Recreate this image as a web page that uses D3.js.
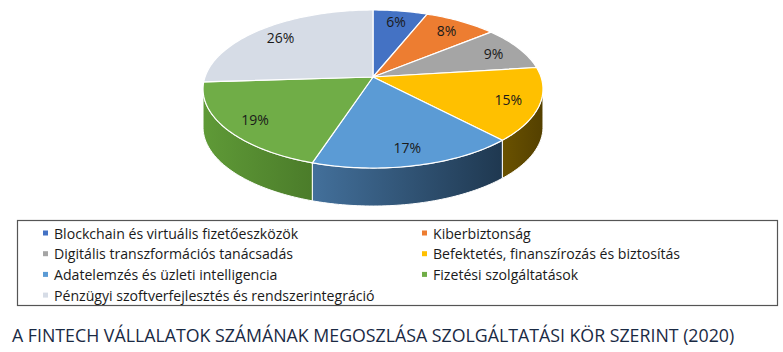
<!DOCTYPE html>
<html>
<head>
<meta charset="utf-8">
<script src="https://cdn.jsdelivr.net/npm/d3@7"></script>
<style>
  body { margin: 0; background: #fff; }
  text { font-family: "Open Sans", "Noto Sans", sans-serif; }
</style>
</head>
<body>
<div id="chart"></div>
<script>
// service areas of fintech companies (2020)
const categories = [
    "Blockchain és virtuális fizetőeszközök",
    "Kiberbiztonság",
    "Digitális transzformációs tanácsadás",
    "Befektetés, finanszírozás és biztosítás",
    "Adatelemzés és üzleti intelligencia",
    "Fizetési szolgáltatások",
    "Pénzügyi szoftverfejlesztés és rendszerintegráció"
];
const shares = [6, 8, 9, 15, 17, 19, 26];
const topColors = ["#4472C4", "#ED7D31", "#A5A5A5", "#FFC000", "#5B9BD5", "#70AD47", "#D6DCE6"];
const sideColors = [
    ["#2f5597", "#23407a"], ["#a5541d", "#8a4416"], ["#737373", "#5e5e5e"],
    ["#6a5200", "#544000"], ["#43709b", "#1f3850"], ["#5f9a37", "#4b7c2a"], ["#9aa3b0", "#7f8794"]
];
const title = "A FINTECH VÁLLALATOK SZÁMÁNAK MEGOSZLÁSA SZOLGÁLTATÁSI KÖR SZERINT (2020)";

const W = 783, H = 352;
const svg = d3.select("#chart").append("svg")
    .attr("width", W)
    .attr("height", H);

const defs = svg.append("defs");

// perspective-ish projection of a flat disc
const pie3d = { cx: 373, cy: 77, R: 168, K: 77.2, B: 0.152, depth: 38 };

function proj(a, k) {
    let u = Math.sin(a) * k, v = -Math.cos(a) * k;
    let s = 1 / (1 - pie3d.B * v);
    return [pie3d.cx + pie3d.R * u * s, pie3d.cy + pie3d.K * v * s];
}

function arcPoints(a0, a1, k) {
    let n = Math.max(2, Math.ceil(Math.abs(a1 - a0) / 0.02));
    return d3.range(n + 1).map(i => proj(a0 + (a1 - a0) * i / n, k));
}

const pie = d3.pie().sort(null).value(d => d);
const slices = pie(shares);

const line = d3.line();

// visible side runs between the two silhouette points
const aFrontL = Math.acos(-pie3d.B);
const aFrontR = 2 * Math.PI - aFrontL;

const sideG = svg.append("g");
slices.forEach((d, i) => {
    let lo = Math.max(d.startAngle, aFrontL);
    let hi = Math.min(d.endAngle, aFrontR);
    if (lo >= hi) return;
    let top = arcPoints(lo, hi, 1);
    let bottom = top.map(p => [p[0], p[1] + pie3d.depth]).reverse();

    let xs = top.map(p => p[0]);
    let grad = defs.append("linearGradient")
        .attr("id", "side" + i)
        .attr("gradientUnits", "userSpaceOnUse")
        .attr("x1", d3.min(xs)).attr("x2", d3.max(xs))
        .attr("y1", 0).attr("y2", 0);
    grad.append("stop").attr("offset", "0%").attr("stop-color", sideColors[i][0]);
    grad.append("stop").attr("offset", "100%").attr("stop-color", sideColors[i][1]);

    sideG.append("path")
        .attr("d", line(top.concat(bottom)) + "Z")
        .attr("fill", "url(#side" + i + ")")
        .attr("stroke", "#fff")
        .attr("stroke-width", 1)
        .attr("stroke-linejoin", "round");
});

// top face
const topG = svg.append("g");
topG.selectAll("path")
    .data(slices)
    .enter().append("path")
    .attr("d", d => line([[pie3d.cx, pie3d.cy]].concat(arcPoints(d.startAngle, d.endAngle, 1))) + "Z")
    .attr("fill", (d, i) => topColors[i])
    .attr("stroke", "#fff")
    .attr("stroke-width", 1.2)
    .attr("stroke-linejoin", "round");

// percentage labels
topG.selectAll("text")
    .data(slices)
    .enter().append("text")
    .attr("x", d => proj((d.startAngle + d.endAngle) / 2, 0.82)[0])
    .attr("y", d => proj((d.startAngle + d.endAngle) / 2, 0.82)[1])
    .attr("text-anchor", "middle")
    .attr("dominant-baseline", "central")
    .style("font-size", "14px")
    .style("fill", "#1a1a1a")
    .text(d => d.data + "%");

// legend
const legend = { x: 17, y: 220, w: 760, h: 85, col2: 422, row0: 233, rowH: 20.7 };
svg.append("rect")
    .attr("x", legend.x + 0.5)
    .attr("y", legend.y + 0.5)
    .attr("width", legend.w)
    .attr("height", legend.h)
    .attr("fill", "none")
    .attr("stroke", "#555")
    .attr("stroke-width", 1.2);

const items = svg.append("g").selectAll("g")
    .data(categories)
    .enter().append("g")
    .attr("transform", (d, i) => `translate(${i % 2 ? legend.col2 : 43}, ${legend.row0 + Math.floor(i / 2) * legend.rowH})`);

items.append("rect")
    .attr("x", 0).attr("y", -2.5)
    .attr("width", 5).attr("height", 5)
    .attr("fill", (d, i) => topColors[i]);

const legendText = items.append("text")
    .attr("x", 11)
    .attr("dominant-baseline", "central")
    .style("font-size", "14.5px")
    .style("fill", "#1a1a1a")
    .text(d => d);

// squeeze the labels to a Calibri-like width
let longest = legendText.filter((d, i) => i === 6).node().getComputedTextLength();
let sx = 321 / longest;
legendText.attr("transform", `scale(${sx},1)`).attr("x", 11 / sx);

// title
const titleText = svg.append("text")
    .attr("y", 334)
    .attr("dominant-baseline", "central")
    .style("font-size", "19px")
    .style("fill", "#1a2a44")
    .text(title);
let tsx = 723 / titleText.node().getComputedTextLength();
titleText.attr("transform", `scale(${tsx},1)`).attr("x", 12 / tsx);
</script>
</body>
</html>
